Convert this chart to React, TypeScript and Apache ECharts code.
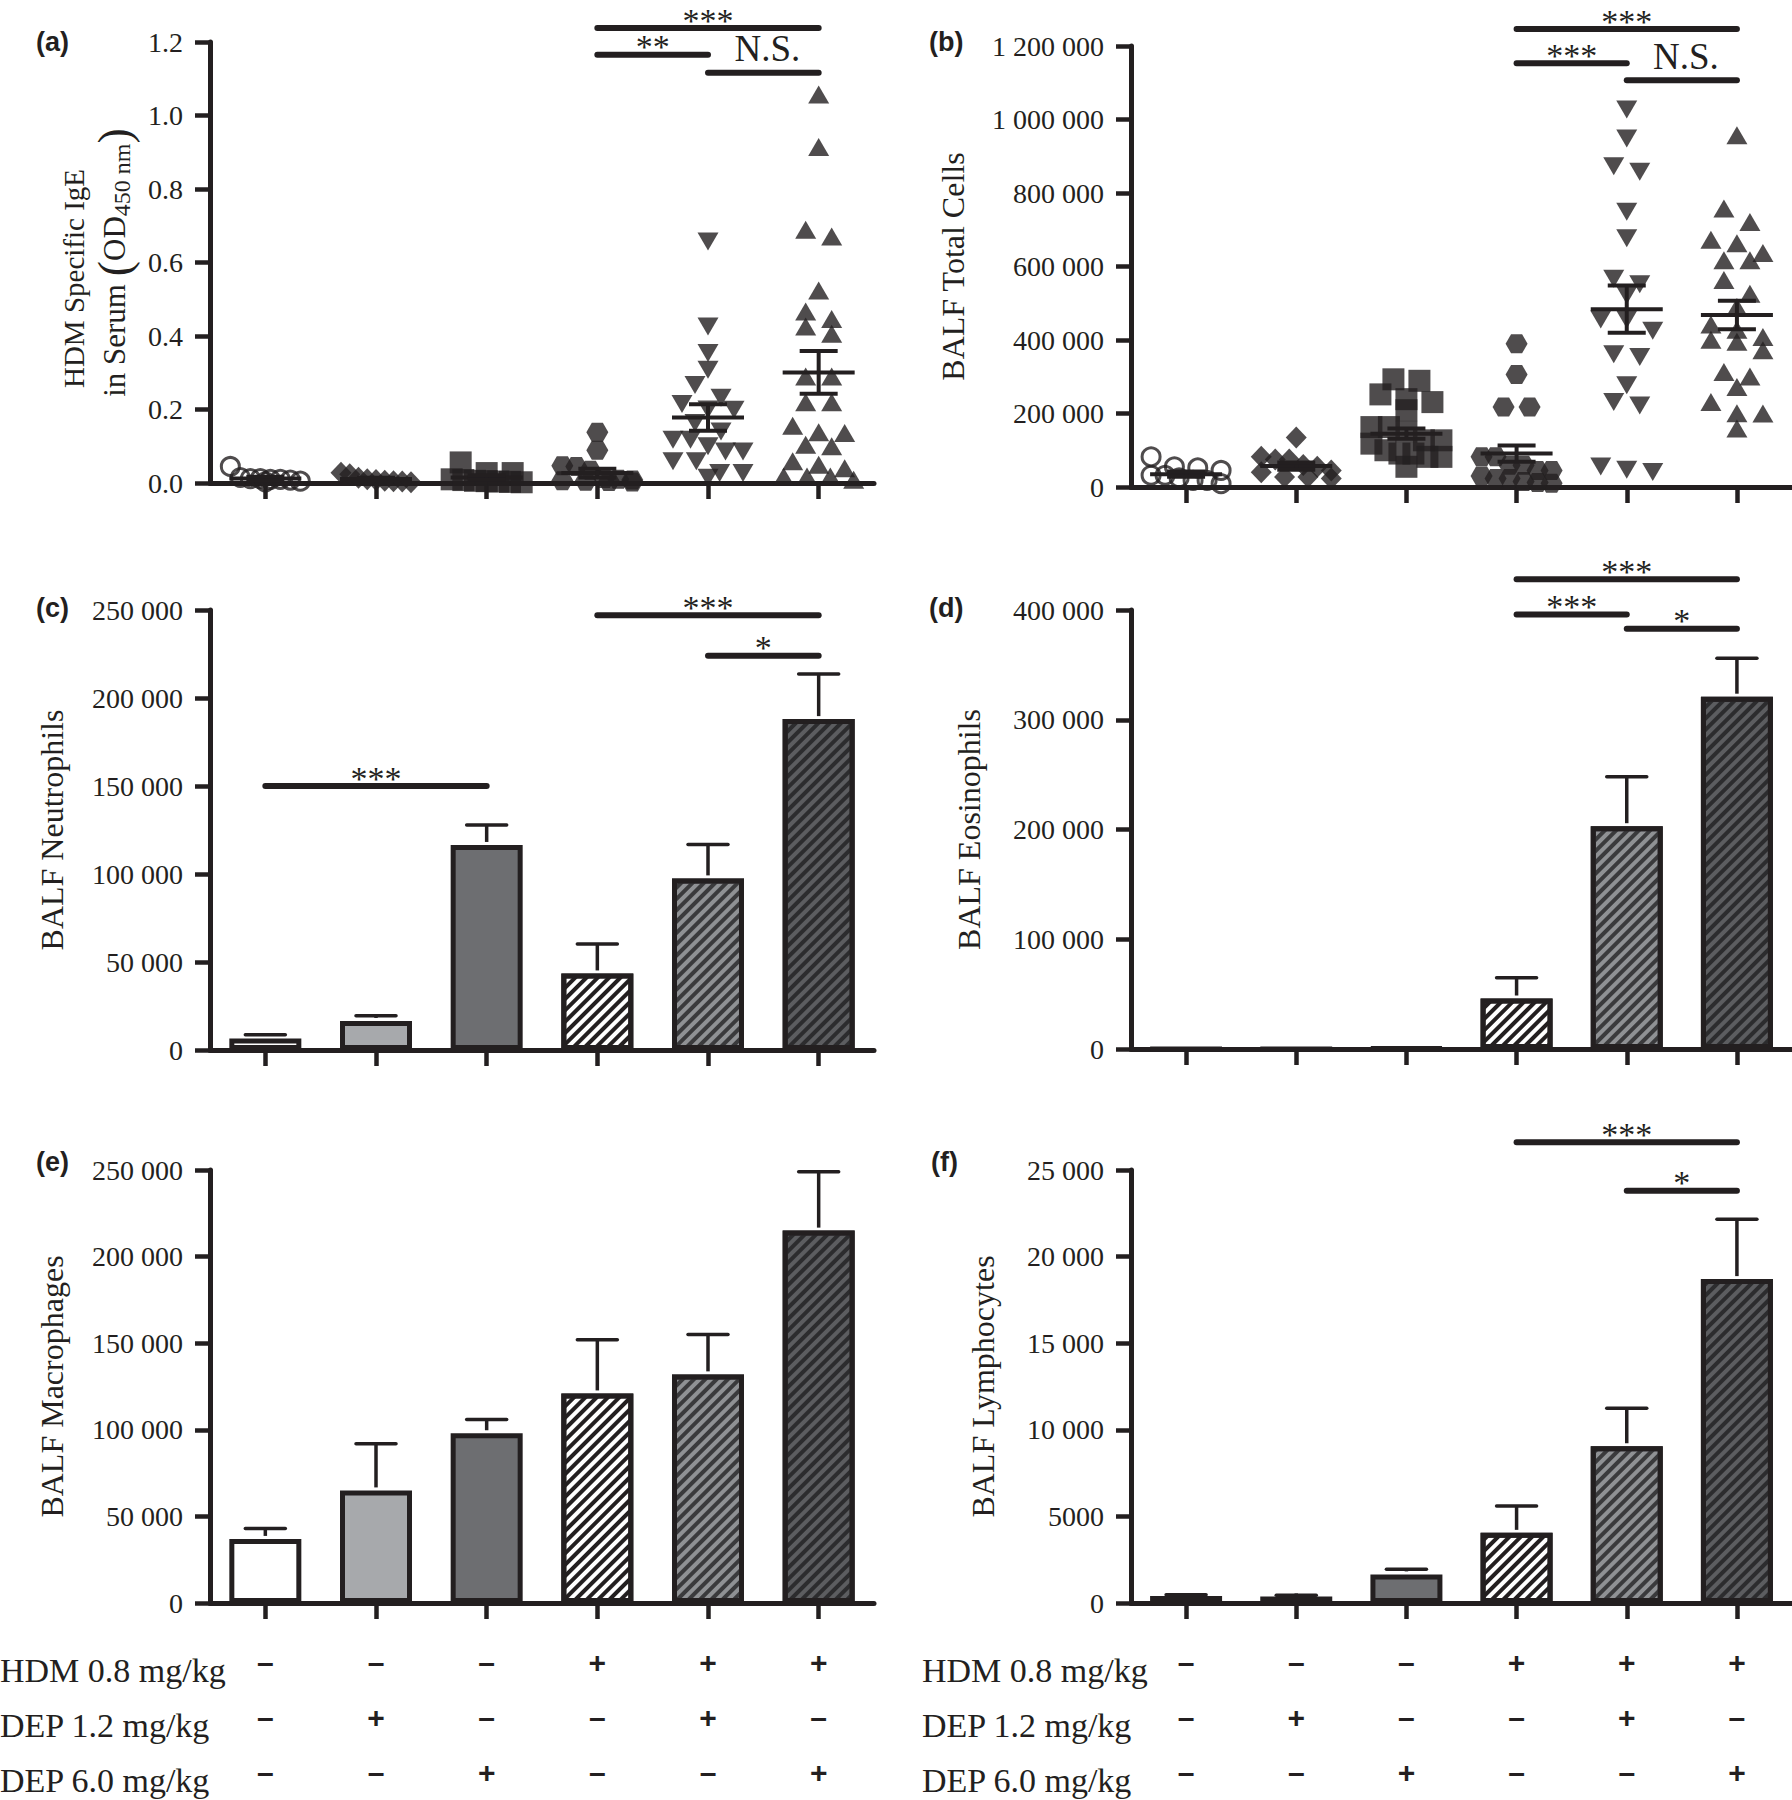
import React, { useEffect, useRef } from 'react';
import * as echarts from 'echarts';

const INK = '#231f20';
const SERIF = "'Liberation Serif', 'Times New Roman', serif";
const SANS = "'Liberation Sans', Arial, sans-serif";

// ---------- categories & treatment table ----------
const GROUPS = ['Control', 'DEP 1.2', 'DEP 6.0', 'HDM', 'HDM + DEP 1.2', 'HDM + DEP 6.0'];
const HDM_ROW = ['–', '–', '–', '+', '+', '+'];
const DEP12_ROW = ['–', '+', '–', '–', '+', '–'];
const DEP60_ROW = ['–', '–', '+', '–', '–', '+'];
const ROW_NAMES = ['HDM 0.8 mg/kg', 'DEP 1.2 mg/kg', 'DEP 6.0 mg/kg'];

// ---------- (a) HDM specific IgE, individual animals ----------
const IGE_CTRL = [0.045, 0.015, 0.012, 0.01, 0.008, 0.012, 0.005, 0.01, 0.003];
const IGE_DEP12 = [0.028, 0.024, 0.014, 0.008, 0.005, 0.004, 0.006, 0.01, 0.002];
const IGE_DEP60 = [0.056, 0.027, 0.027, 0.01, 0.008, 0.005, 0.004, 0.003, 0.006, 0.002];
const IGE_HDM = [0.138, 0.089, 0.047, 0.045, 0.035, 0.012, 0.01, 0.008, 0.006, 0.005, 0.004, 0.003];
const IGE_HDM_D12 = [0.657, 0.426, 0.354, 0.308, 0.267, 0.232, 0.215, 0.2, 0.199, 0.163, 0.14, 0.118, 0.118, 0.1, 0.086, 0.086, 0.059, 0.059, 0.027, 0.014, 0.027];
const IGE_HDM_D60 = [1.057, 0.914, 0.689, 0.671, 0.524, 0.467, 0.446, 0.426, 0.406, 0.29, 0.29, 0.22, 0.22, 0.156, 0.138, 0.136, 0.104, 0.1, 0.059, 0.05, 0.04, 0.018, 0.018, 0.018, 0.009];
const IGE_MEAN = [0.012, 0.011, 0.015, 0.027, 0.178, 0.301];
const IGE_SEM = [0.005, 0.003, 0.006, 0.012, 0.036, 0.058];

// ---------- (b) BALF total cells, individual animals ----------
const TOT_CTRL = [82000, 52000, 55000, 32000, 32000, 45000, 18000, 18000, 9000, 25000];
const TOT_DEP12 = [135000, 75000, 75000, 82000, 27000, 27000, 45000, 40000, 23000, 60000, 55000];
const TOT_DEP60 = [293000, 289000, 252000, 239000, 231000, 209000, 163000, 163000, 127000, 127000, 118000, 91000, 91000, 82000, 82000, 55000, 100000, 150000];
const TOT_HDM = [390000, 306000, 218000, 218000, 82000, 82000, 59000, 59000, 45000, 45000, 23000, 23000, 30000, 15000, 10000, 12000];
const TOT_HDM_D12 = [1027000, 948000, 873000, 858000, 749000, 677000, 567000, 552000, 522000, 456000, 456000, 425000, 361000, 354000, 277000, 231000, 222000, 56000, 47000, 41000];
const TOT_HDM_D60 = [957000, 758000, 721000, 673000, 663000, 637000, 617000, 617000, 563000, 526000, 490000, 442000, 428000, 408000, 401000, 395000, 372000, 313000, 301000, 272000, 231000, 201000, 200000, 159000];
const TOT_MEAN = [35000, 57000, 145000, 91000, 484000, 468000];
const TOT_SEM = [7000, 10000, 14000, 22000, 64000, 39000];

// ---------- (c)-(f) bar means and top of error bars ----------
const NEUT_MEAN = [6500, 16500, 116500, 43500, 97500, 188000];
const NEUT_ERR = [8700, 19500, 127800, 60200, 116800, 213700];
const EOS_MEAN = [100, 100, 700, 46000, 203000, 321000];
const EOS_ERR = [100, 100, 700, 65000, 248000, 356000];
const MAC_MEAN = [37000, 65000, 98000, 121000, 132000, 215000];
const MAC_ERR = [43000, 92000, 106000, 152000, 155000, 249000];
const LYM_MEAN = [400, 380, 1650, 4050, 9050, 18700];
const LYM_ERR = [480, 450, 1950, 5600, 11250, 22150];

// ---------- significance brackets: [fromGroup, toGroup, level] ----------
const SIG_A = [[3, 5, 1.238], [3, 4, 1.165], [4, 5, 1.116]];
const SIG_A_LABELS = ['***', '**', 'N.S.'];
const SIG_B = [[3, 5, 1246000], [3, 4, 1153000], [4, 5, 1107000]];
const SIG_B_LABELS = ['***', '***', 'N.S.'];
const SIG_C = [[0, 2, 150000], [3, 5, 247000], [4, 5, 224000]];
const SIG_C_LABELS = ['***', '***', '*'];
const SIG_D = [[3, 5, 428000], [3, 4, 396000], [4, 5, 383000]];
const SIG_D_LABELS = ['***', '***', '*'];
const SIG_F = [[3, 5, 26600], [4, 5, 23800]];
const SIG_F_LABELS = ['***', '*'];

// ---------- styles ----------
const PLOT_H = 441;
const GRIDS = [
  { left: 210, top: 42, width: 664, height: 441 },
  { left: 1131, top: 46, width: 664, height: 441 },
  { left: 210, top: 610, width: 664, height: 440 },
  { left: 1131, top: 610, width: 664, height: 439 },
  { left: 210, top: 1170, width: 664, height: 441 },
  { left: 1131, top: 1170, width: 664, height: 441 },
];
const BAR_FILLS = ['#ffffff', '#a7a9ac', '#6d6e71', '#ffffff', '#8f9194', '#5c5d60'];
const BAR_STRIPES: (string | null)[] = [null, null, null, '#231f20', '#3a3a3c', '#2c2c2e'];
const HEX = 'path://M0,8 L4.6,0 L13.9,0 L18.5,8 L13.9,16 L4.6,16 Z';
const SYMBOLS = ['circle', 'diamond', 'rect', HEX, 'triangle', 'triangle'];
const SYMBOL_SIZES: any[] = [18, [21, 22], 22, [22, 19], [21, 18], [21, 18]];
const SYMBOL_ROT = [0, 0, 0, 0, 180, 0];

function groupThousands(v: number): string {
  if (Math.abs(v) < 10000) return String(v);
  return String(v).replace(/\B(?=(\d{3})+(?!\d))/g, ' ');
}

// beeswarm-like horizontal spreading of points with similar values (pixel offsets)
function swarm(vals: number[], pxPerUnit: number): number[] {
  const order = vals.map((_, i) => i).sort((a, b) => vals[b] - vals[a]);
  const rows: number[][] = [];
  let cur: number[] = [];
  for (const i of order) {
    if (cur.length && (vals[cur[0]] - vals[i]) * pxPerUnit > 15) {
      rows.push(cur);
      cur = [];
    }
    cur.push(i);
  }
  if (cur.length) rows.push(cur);
  const offs: number[] = new Array(vals.length).fill(0);
  rows.forEach((row) => {
    const n = row.length;
    const step = n > 1 ? Math.min(26, 70 / (n - 1)) : 0;
    row.forEach((idx, k) => {
      offs[idx] = (k - (n - 1) / 2) * step;
    });
  });
  return offs;
}

const txt = (s: any) => ({ ...s, textAlign: s.align, textVerticalAlign: s.verticalAlign });

function xAxisOf(idx: number, withLabels: boolean) {
  return {
    gridIndex: idx,
    type: 'category',
    data: GROUPS,
    boundaryGap: true,
    axisLine: { show: true, lineStyle: { color: INK, width: 5 } },
    axisTick: { show: true, alignWithLabel: true, interval: 0, length: 16, lineStyle: { color: INK, width: 4.5 } },
    axisLabel: withLabels
      ? {
          show: true,
          interval: 0,
          margin: 32,
          color: INK,
          fontFamily: SANS,
          fontWeight: 'bold',
          fontSize: 30,
          lineHeight: 55,
          formatter: (_v: string, i: number) => `${HDM_ROW[i]}\n${DEP12_ROW[i]}\n${DEP60_ROW[i]}`,
        }
      : { show: false },
    splitLine: { show: false },
  };
}

function yAxisOf(idx: number, max: number, interval: number, formatter: any, name: string, nameGap: number, rich?: any) {
  return {
    gridIndex: idx,
    type: 'value',
    min: 0,
    max,
    interval,
    axisLine: { show: true, lineStyle: { color: INK, width: 5 } },
    axisTick: { show: true, length: 15, lineStyle: { color: INK, width: 4.5 } },
    splitLine: { show: false },
    axisLabel: { color: INK, fontFamily: SERIF, fontSize: 28, margin: 27, formatter },
    name,
    nameLocation: 'middle',
    nameRotate: 90,
    nameGap,
    nameTextStyle: { color: INK, fontFamily: SERIF, fontSize: 32, lineHeight: 40, rich },
  };
}

function scatterSeries(idx: number, groups: number[][], max: number) {
  const pxPerUnit = PLOT_H / max;
  const data: any[] = [];
  groups.forEach((vals, g) => {
    const offs = swarm(vals, pxPerUnit);
    vals.forEach((v, k) => {
      data.push({
        value: [g, v],
        symbol: SYMBOLS[g],
        symbolSize: SYMBOL_SIZES[g],
        symbolRotate: SYMBOL_ROT[g],
        symbolOffset: [offs[k], 0],
        itemStyle: g === 0 ? { color: 'rgba(0,0,0,0)', borderColor: INK, borderWidth: 3 } : { color: INK },
      });
    });
  });
  return { type: 'scatter', xAxisIndex: idx, yAxisIndex: idx, data, z: 3, silent: true };
}

function meanSemSeries(idx: number, means: number[], sems: number[]) {
  return {
    type: 'custom',
    xAxisIndex: idx,
    yAxisIndex: idx,
    z: 4,
    silent: true,
    data: means.map((m, i) => [i, m, sems[i]]),
    encode: { x: 0, y: 1 },
    renderItem: (_p: any, api: any) => {
      const g = api.value(0);
      const m = api.value(1);
      const s = api.value(2);
      const c = api.coord([g, m]);
      const t = api.coord([g, m + s]);
      const b = api.coord([g, Math.max(0, m - s)]);
      const st = { stroke: INK, lineWidth: 4 };
      return {
        type: 'group',
        children: [
          { type: 'line', shape: { x1: c[0] - 36, y1: c[1], x2: c[0] + 36, y2: c[1] }, style: st },
          { type: 'line', shape: { x1: t[0], y1: t[1], x2: b[0], y2: b[1] }, style: st },
          { type: 'line', shape: { x1: t[0] - 19, y1: t[1], x2: t[0] + 19, y2: t[1] }, style: st },
          { type: 'line', shape: { x1: b[0] - 19, y1: b[1], x2: b[0] + 19, y2: b[1] }, style: st },
        ],
      };
    },
  };
}

function barSeries(idx: number, means: number[]) {
  return {
    type: 'bar',
    xAxisIndex: idx,
    yAxisIndex: idx,
    barWidth: 72,
    silent: true,
    z: 2,
    data: means.map((v, i) => ({
      value: v,
      itemStyle: {
        color: BAR_FILLS[i],
        borderColor: INK,
        borderWidth: 5,
        decal: BAR_STRIPES[i]
          ? {
              symbol: 'rect',
              symbolSize: 1,
              dashArrayX: [1, 0],
              dashArrayY: [3.5, 4],
              rotation: -Math.PI / 4,
              color: BAR_STRIPES[i],
            }
          : undefined,
      },
    })),
  };
}

function errorSeries(idx: number, means: number[], tops: number[]) {
  return {
    type: 'custom',
    xAxisIndex: idx,
    yAxisIndex: idx,
    z: 3,
    silent: true,
    data: means.map((m, i) => [i, m, tops[i]]),
    encode: { x: 0, y: 1 },
    renderItem: (_p: any, api: any) => {
      const g = api.value(0);
      const m = api.value(1);
      const t = api.value(2);
      if (!(t > m)) return { type: 'group', children: [] };
      const a = api.coord([g, m]);
      const b = api.coord([g, t]);
      const st = { stroke: INK, lineWidth: 3.5 };
      return {
        type: 'group',
        children: [
          { type: 'line', shape: { x1: a[0], y1: a[1] - 3, x2: b[0], y2: b[1] }, style: st },
          { type: 'line', shape: { x1: b[0] - 20, y1: b[1], x2: b[0] + 20, y2: b[1] }, style: { ...st, lineCap: 'round' } },
        ],
      };
    },
  };
}

function sigSeries(idx: number, rows: number[][], labels: string[]) {
  return {
    type: 'custom',
    xAxisIndex: idx,
    yAxisIndex: idx,
    z: 6,
    clip: false,
    silent: true,
    data: rows,
    encode: { x: [0, 1], y: 2 },
    renderItem: (p: any, api: any) => {
      const a = api.coord([api.value(0), api.value(2)]);
      const b = api.coord([api.value(1), api.value(2)]);
      const lab = labels[p.dataIndex];
      const ns = lab === 'N.S.';
      // keep the label inside the page when a bracket sits near the top edge
      const ty = Math.max(a[1] - (ns ? 24 : 8), 20);
      return {
        type: 'group',
        children: [
          { type: 'line', shape: { x1: a[0], y1: a[1], x2: b[0], y2: b[1] }, style: { stroke: INK, lineWidth: 6, lineCap: 'round' } },
          {
            type: 'text',
            x: (a[0] + b[0]) / 2 + (ns ? 4 : 0),
            y: ty,
            style: txt({
              text: lab,
              fill: INK,
              font: `${ns ? 37 : 34}px ${SERIF}`,
              lineHeight: ns ? 34 : 22,
              align: 'center',
              verticalAlign: 'middle',
            }),
          },
        ],
      };
    },
  };
}

const IGE_RICH = {
  a: { fontFamily: SERIF, fontSize: 29, color: INK, lineHeight: 40, padding: [0, 32, 0, 0] },
  t: { fontFamily: SERIF, fontSize: 31, color: INK, lineHeight: 40 },
  p: { fontFamily: SERIF, fontSize: 46, color: INK, lineHeight: 40 },
  s: { fontFamily: SERIF, fontSize: 24, color: INK, lineHeight: 30, verticalAlign: 'bottom' },
};

export default function App() {
  const ref = useRef<HTMLDivElement>(null);
  useEffect(() => {
    if (!ref.current) return;
    const chart = echarts.init(ref.current, undefined, { renderer: 'svg' });
    const panelLabels = [
      ['(a)', 36, 42],
      ['(b)', 929, 42],
      ['(c)', 36, 608],
      ['(d)', 929, 608],
      ['(e)', 36, 1162],
      ['(f)', 931, 1162],
    ];
    const graphic: any[] = [];
    panelLabels.forEach(([t, x, y]) => {
      graphic.push({
        type: 'text',
        x,
        y,
        silent: true,
        style: txt({ text: t, fill: INK, font: `bold 27px ${SANS}`, align: 'left', verticalAlign: 'middle' }),
      });
    });
    [0, 922].forEach((x0) => {
      ROW_NAMES.forEach((name, r) => {
        graphic.push({
          type: 'text',
          x: x0,
          y: 1670 + r * 55,
          silent: true,
          style: txt({ text: name, fill: INK, font: `34px ${SERIF}`, align: 'left', verticalAlign: 'middle' }),
        });
      });
    });

    const option: any = {
      animation: false,
      backgroundColor: '#ffffff',
      grid: GRIDS.map((g) => ({ ...g, containLabel: false })),
      xAxis: [0, 1, 2, 3, 4, 5].map((i) => xAxisOf(i, i >= 4)),
      yAxis: [
        yAxisOf(0, 1.2, 0.2, (v: number) => v.toFixed(1), '{a|HDM Specific IgE}\n{t|in Serum }{p|(}{t|OD}{s|450 nm}{p|)}', 76, IGE_RICH),
        yAxisOf(1, 1200000, 200000, groupThousands, 'BALF Total Cells', 158),
        yAxisOf(2, 250000, 50000, groupThousands, 'BALF Neutrophils', 138),
        yAxisOf(3, 400000, 100000, groupThousands, 'BALF Eosinophils', 142),
        yAxisOf(4, 250000, 50000, groupThousands, 'BALF Macrophages', 138),
        yAxisOf(5, 25000, 5000, groupThousands, 'BALF Lymphocytes', 128),
      ],
      graphic,
      series: [
        scatterSeries(0, [IGE_CTRL, IGE_DEP12, IGE_DEP60, IGE_HDM, IGE_HDM_D12, IGE_HDM_D60], 1.2),
        meanSemSeries(0, IGE_MEAN, IGE_SEM),
        sigSeries(0, SIG_A, SIG_A_LABELS),
        scatterSeries(1, [TOT_CTRL, TOT_DEP12, TOT_DEP60, TOT_HDM, TOT_HDM_D12, TOT_HDM_D60], 1200000),
        meanSemSeries(1, TOT_MEAN, TOT_SEM),
        sigSeries(1, SIG_B, SIG_B_LABELS),
        barSeries(2, NEUT_MEAN),
        errorSeries(2, NEUT_MEAN, NEUT_ERR),
        sigSeries(2, SIG_C, SIG_C_LABELS),
        barSeries(3, EOS_MEAN),
        errorSeries(3, EOS_MEAN, EOS_ERR),
        sigSeries(3, SIG_D, SIG_D_LABELS),
        barSeries(4, MAC_MEAN),
        errorSeries(4, MAC_MEAN, MAC_ERR),
        barSeries(5, LYM_MEAN),
        errorSeries(5, LYM_MEAN, LYM_ERR),
        sigSeries(5, SIG_F, SIG_F_LABELS),
      ],
    };
    chart.setOption(option);
    return () => chart.dispose();
  }, []);
  return <div ref={ref} style={{ position: 'absolute', left: 0, top: 0, width: 1792, height: 1800, background: '#fff' }} />;
}
